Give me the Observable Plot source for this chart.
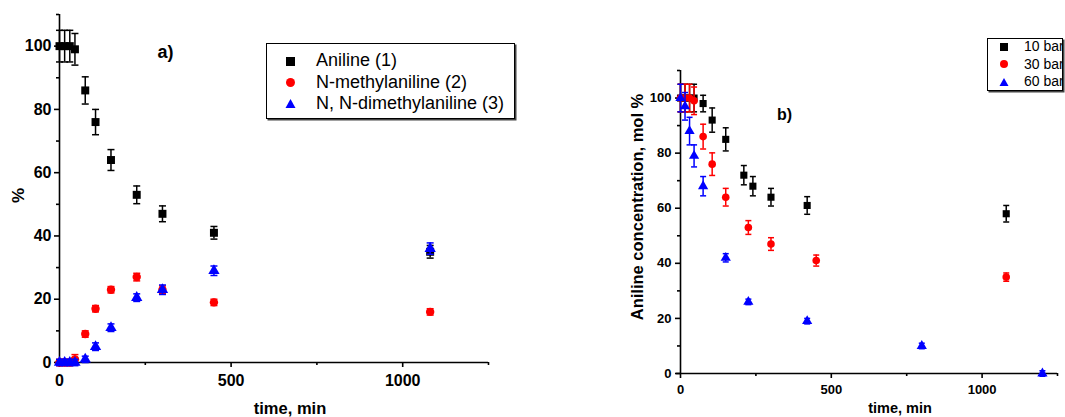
<!DOCTYPE html>
<html>
<head>
<meta charset="utf-8">
<script src="https://cdn.jsdelivr.net/npm/d3@7"></script>
<script src="https://cdn.jsdelivr.net/npm/@observablehq/plot@0.6"></script>
<style>
  html, body { margin: 0; padding: 0; background: #fff; }
  #wrap { position: relative; width: 1065px; height: 417px; overflow: hidden; font-family: "Liberation Sans", Arial, sans-serif; }
  .panel { position: absolute; top: 0; }
  .legend { position: absolute; border: 1px solid #000; box-shadow: 1.5px 1.5px 0 #444; background: #fff; overflow: hidden; }
  .item { position: absolute; white-space: nowrap; }
  .sym { position: absolute; }
</style>
</head>
<body>
<div id="wrap"></div>
<script>
// ---------- Panel a) data ----------
const timeA      = [0, 15, 30, 45, 75, 105, 150, 225, 300, 450, 1080];
const anilineA   = [100, 100, 100, 99, 86, 76, 64, 53, 47, 41, 35];
const anilineErr = [5, 5, 5, 5, 4.3, 4, 3.3, 2.8, 2.5, 2, 2];
const nmaA       = [0, 0, 0, 1, 9, 17, 23, 27, 23, 19, 16];
const nmaErr     = [1, 1, 1, 1.5, 1, 1, 1, 1.2, 1.2, 1, 1];
const nndmaA     = [0, 0, 0, 0, 1, 5, 11, 20.5, 23, 29, 36];
const nndmaErr   = [1, 1, 1, 1, 1, 1.2, 1.2, 1.2, 1.5, 1.5, 1.8];
const seriesNamesA = ["Aniline (1)", "N-methylaniline (2)", "N, N-dimethylaniline (3)"];

// ---------- Panel b) data ----------
const time10 = [0, 15, 30, 45, 75, 105, 150, 210, 240, 300, 420, 1080];
const bar10  = [100, 100, 100, 100, 98, 92, 85, 72, 68, 64, 61, 58];
const err10  = [5, 5, 5, 5, 3, 4.4, 4.2, 3.5, 3.5, 3.2, 3.2, 3];
const time30 = [0, 15, 30, 45, 75, 105, 150, 225, 300, 450, 1080];
const bar30  = [100, 100, 100, 99, 86, 76, 64, 53, 47, 41, 35];
const err30  = [5, 5, 5, 5, 4.5, 4.1, 3.2, 2.5, 2.3, 2, 1.5];
const time60 = [0, 15, 30, 45, 75, 150, 225, 420, 800, 1200];
const bar60  = [100, 97, 88, 79, 68, 42, 26, 19, 10, 0];
const err60  = [5, 5, 5, 4, 3.5, 1.5, 1, 1, 1, 1];
const seriesNamesB = ["10 bar", "30 bar", "60 bar"];

// ---------- tick labels ----------
const yMajor = [0, 20, 40, 60, 80, 100];
const yMinor = [10, 30, 50, 70, 90, 110];
const xMajor = [0, 500, 1000];
const xMinor = [250, 750, 1250];

const BLACK = "#000000", RED = "#ff0000", BLUE = "#0000ff";
const FONT = "'Liberation Sans', Arial, sans-serif";

const rows = (t, v, e) => t.map((ti, i) => ({t: ti, v: v[i], e: e[i]}));
const capSymbol = (w) => ({ draw(ctx) { ctx.moveTo(-w, 0); ctx.lineTo(w, 0); } });

function seriesMarks(data, color, symbol, r, capW) {
  const cap = capSymbol(capW);
  return [
    Plot.ruleX(data, {x: "t", y1: d => d.v - d.e, y2: d => d.v + d.e, stroke: color, strokeWidth: 1.5}),
    Plot.dot(data, {x: "t", y: d => d.v + d.e, symbol: cap, stroke: color, strokeWidth: 1.5, fill: "none"}),
    Plot.dot(data, {x: "t", y: d => d.v - d.e, symbol: cap, stroke: color, strokeWidth: 1.5, fill: "none"}),
    Plot.dot(data, {x: "t", y: "v", symbol, r, fill: color, stroke: "none"})
  ];
}

function axes(fs, yPad, xPad) {
  const fmt = d3.format("d");
  return [
    Plot.axisY(yMajor, {tickSize: 5, tickPadding: yPad, fontSize: fs, fontWeight: "bold", label: null, strokeWidth: 1.6, tickFormat: fmt}),
    Plot.axisY(yMinor, {tickSize: 3, tickFormat: () => "", label: null, strokeWidth: 1.6}),
    Plot.axisX(xMajor, {tickSize: 5, tickPadding: xPad, fontSize: fs, fontWeight: "bold", label: null, strokeWidth: 1.6, tickFormat: fmt}),
    Plot.axisX(xMinor, {tickSize: 3, tickFormat: () => "", label: null, strokeWidth: 1.6}),
    Plot.ruleX([0], {strokeWidth: 1.6}),
    Plot.ruleY([0], {strokeWidth: 1.6, insetLeft: -4})
  ];
}

const wrap = document.getElementById("wrap");

// ---------- Panel a ----------
const plotA = Plot.plot({
  width: 500, height: 417,
  marginLeft: 59, marginRight: 12, marginTop: 14, marginBottom: 55,
  x: {domain: [0, 1250]},
  y: {domain: [0, 110]},
  style: {fontFamily: FONT, background: "transparent", overflow: "visible", color: "#000"},
  marks: [
    ...axes(16, 3, 7),
    ...seriesMarks(rows(timeA, anilineA, anilineErr), BLACK, "square", 4.5, 3.5),
    ...seriesMarks(rows(timeA, nmaA, nmaErr), RED, "circle", 4.2, 3.5),
    ...seriesMarks(rows(timeA, nndmaA, nndmaErr), BLUE, "triangle", 4.2, 3.5),
    Plot.text(["%"], {frameAnchor: "left", textAnchor: "middle", lineAnchor: "middle", dx: -41, dy: 7, rotate: -90, fontSize: 17, fontWeight: "bold"}),
    Plot.text(["time, min"], {frameAnchor: "bottom", textAnchor: "middle", lineAnchor: "middle", dx: 16, dy: 46, fontSize: 16.5, fontWeight: "bold"}),
    Plot.text(["a)"], {frameAnchor: "top-left", textAnchor: "middle", lineAnchor: "middle", dx: 106, dy: 38, fontSize: 18, fontWeight: "bold"})
  ]
});
plotA.classList.add("panel");
plotA.style.left = "0px";
wrap.appendChild(plotA);

// ---------- Panel b ----------
const plotB = Plot.plot({
  width: 505, height: 417,
  marginLeft: 120, marginRight: 8, marginTop: 70, marginBottom: 44,
  x: {domain: [0, 1250]},
  y: {domain: [0, 110]},
  style: {fontFamily: FONT, background: "transparent", overflow: "visible", color: "#000"},
  marks: [
    ...axes(13, 4, 6),
    ...seriesMarks(rows(time10, bar10, err10), BLACK, "square", 4, 3),
    ...seriesMarks(rows(time30, bar30, err30), RED, "circle", 3.8, 3),
    ...seriesMarks(rows(time60, bar60, err60), BLUE, "triangle", 3.8, 3),
    Plot.text(["Aniline concentration, mol %"], {frameAnchor: "left", textAnchor: "middle", lineAnchor: "middle", dx: -43, dy: -15, rotate: -90, fontSize: 16.5, fontWeight: "bold"}),
    Plot.text(["time, min"], {frameAnchor: "bottom", textAnchor: "middle", lineAnchor: "middle", dx: 31, dy: 35, fontSize: 14.5, fontWeight: "bold"}),
    Plot.text(["b)"], {frameAnchor: "top-left", textAnchor: "middle", lineAnchor: "middle", dx: 104, dy: 44, fontSize: 16, fontWeight: "bold"})
  ]
});
plotB.classList.add("panel");
plotB.style.left = "560px";
wrap.appendChild(plotB);

// ---------- Legends ----------
function symbolSvg(kind, color, s) {
  const ns = "http://www.w3.org/2000/svg";
  const svg = document.createElementNS(ns, "svg");
  svg.setAttribute("width", s + 2); svg.setAttribute("height", s + 2);
  svg.setAttribute("class", "sym");
  const c = (s + 2) / 2;
  let el;
  if (kind === "square") {
    el = document.createElementNS(ns, "rect");
    el.setAttribute("x", c - s / 2); el.setAttribute("y", c - s / 2);
    el.setAttribute("width", s); el.setAttribute("height", s);
  } else if (kind === "circle") {
    el = document.createElementNS(ns, "circle");
    el.setAttribute("cx", c); el.setAttribute("cy", c); el.setAttribute("r", s / 2);
  } else {
    el = document.createElementNS(ns, "path");
    el.setAttribute("d", `M${c},${c - s / 2}L${c + s / 2 + 0.5},${c + s / 2}L${c - s / 2 - 0.5},${c + s / 2}Z`);
  }
  el.setAttribute("fill", color);
  svg.appendChild(el);
  return svg;
}

function legend(box, names, kinds, colors, opt) {
  const div = document.createElement("div");
  div.className = "legend";
  Object.assign(div.style, {left: box.left + "px", top: box.top + "px", width: box.width + "px", height: box.height + "px"});
  names.forEach((name, i) => {
    const cy = opt.y0 + i * opt.dy;
    const sym = symbolSvg(kinds[i], colors[i], opt.s);
    sym.style.left = (opt.mx - (opt.s + 2) / 2) + "px";
    sym.style.top = (cy - (opt.s + 2) / 2) + "px";
    div.appendChild(sym);
    const t = document.createElement("div");
    t.className = "item";
    t.textContent = name;
    Object.assign(t.style, {left: opt.tx + "px", top: (cy - opt.fs * 0.6) + "px", fontSize: opt.fs + "px", lineHeight: (opt.fs * 1.2) + "px"});
    div.appendChild(t);
  });
  wrap.appendChild(div);
}

legend({left: 266, top: 43, width: 247, height: 74}, seriesNamesA,
  ["square", "circle", "triangle"], [BLACK, RED, BLUE],
  {y0: 17, dy: 21.3, mx: 23, tx: 49, fs: 18, s: 9});
legend({left: 987, top: 38, width: 74, height: 51}, seriesNamesB,
  ["square", "circle", "triangle"], [BLACK, RED, BLUE],
  {y0: 7.5, dy: 17.6, mx: 16, tx: 36, fs: 14, s: 8});
</script>
</body>
</html>
